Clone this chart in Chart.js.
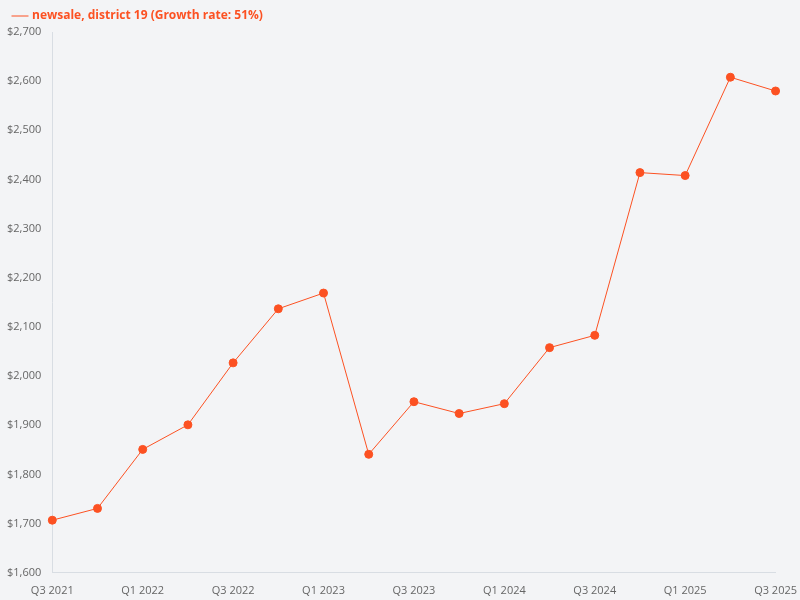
<!DOCTYPE html>
<html>
<head>
<meta charset="utf-8">
<script src="https://cdn.jsdelivr.net/npm/chart.js@4"></script>
<style>
  html, body { margin: 0; padding: 0; background: #f3f4f6; }
  #wrap { width: 800px; height: 600px; }
</style>
</head>
<body>
<div id="wrap"><canvas id="chart"></canvas></div>
<script>
// Quarter labels and sale values
const quarters = ['Q3 2021', 'Q4 2021', 'Q1 2022', 'Q2 2022', 'Q3 2022', 'Q4 2022', 'Q1 2023', 'Q2 2023',
    'Q3 2023', 'Q4 2023', 'Q1 2024', 'Q2 2024', 'Q3 2024', 'Q4 2024', 'Q1 2025', 'Q2 2025', 'Q3 2025'];
const sales = [1707, 1731, 1851, 1901, 2027, 2137, 2169, 1841, 1948, 1924, 1944, 2058, 2083, 2414, 2408, 2608, 2580];
const seriesName = 'newsale, district 19 (Growth rate: 51%)';
const lineColor = '#fc5122';

Chart.defaults.font.family = '"Open Sans", sans-serif';

new Chart(document.getElementById('chart'), {
    type: 'line',
    data: {
        labels: quarters,
        datasets: [{
            label: seriesName,
            data: sales,
            borderColor: lineColor,
            backgroundColor: lineColor,
            borderWidth: 1,
            pointRadius: 4,
            pointHoverRadius: 5,
            tension: 0
        }]
    },
    options: {
        responsive: true,
        maintainAspectRatio: false,
        animation: false,
        layout: { padding: { left: 4, right: 20, top: 0, bottom: 0 } },
        plugins: {
            legend: {
                position: 'top',
                align: 'start',
                labels: {
                    usePointStyle: true,
                    pointStyle: 'line',
                    color: lineColor,
                    font: { size: 12, weight: 'bold' },
                    boxWidth: 14
                }
            }
        },
        scales: {
            x: {
                grid: { display: false },
                border: { color: '#d8dde3' },
                ticks: {
                    color: '#666',
                    font: { size: 11 },
                    autoSkip: false,
                    maxRotation: 0,
                    callback: function(v, i) { return i % 2 === 0 ? quarters[i] : ''; }
                }
            },
            y: {
                min: 1600,
                max: 2700,
                grid: { display: false },
                border: { color: '#d8dde3' },
                ticks: {
                    stepSize: 100,
                    color: '#666',
                    font: { size: 11 },
                    callback: v => '$' + v.toLocaleString('en-US')
                }
            }
        }
    }
});
</script>
</body>
</html>
